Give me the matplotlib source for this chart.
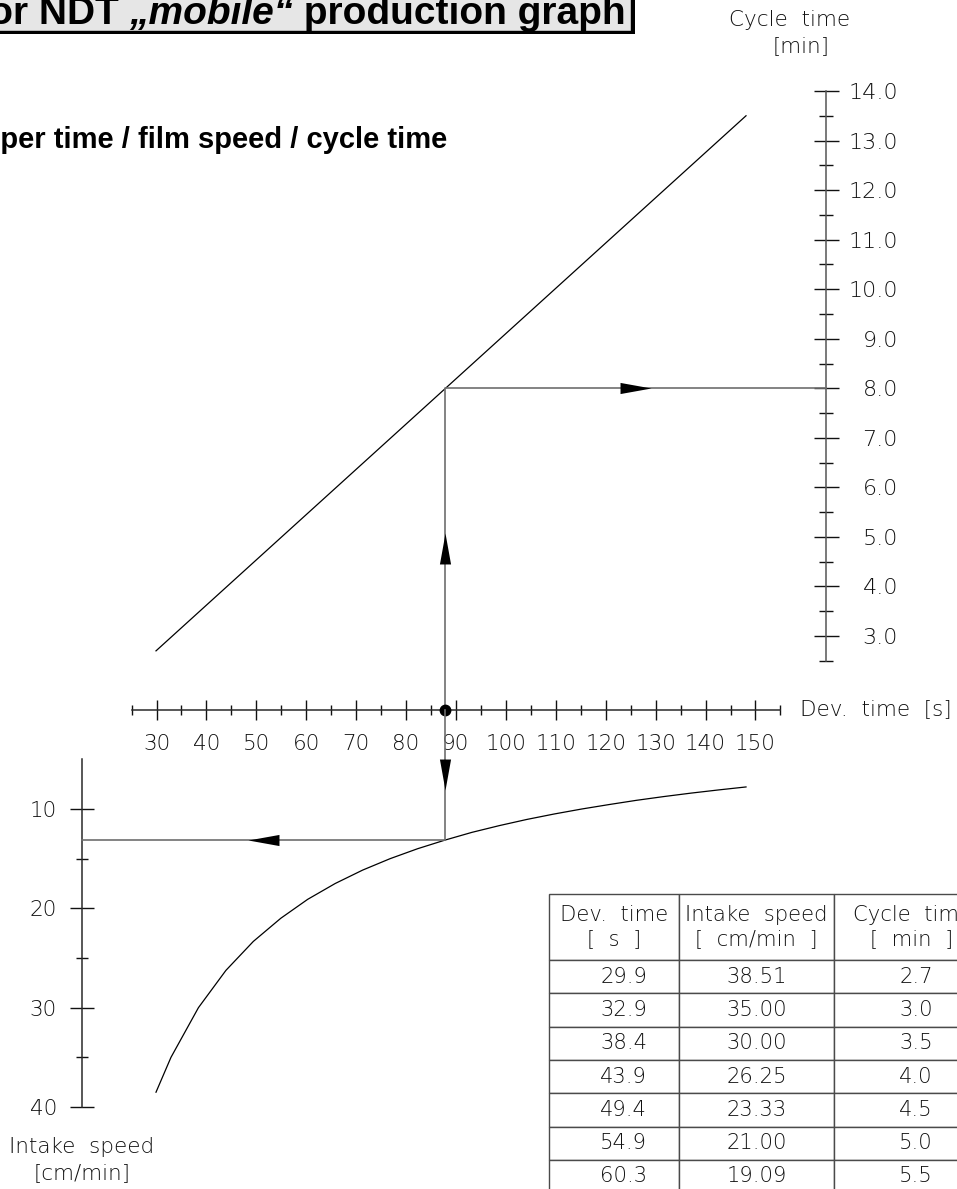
import matplotlib
matplotlib.use("Agg")
import matplotlib.pyplot as plt
from matplotlib import font_manager as fm
from matplotlib.path import Path
from matplotlib.markers import MarkerStyle
from matplotlib.transforms import Affine2D
from matplotlib.patches import Rectangle
from matplotlib.text import Annotation

# ---------------- data ----------------
dev_time = [29.9, 32.9, 38.4, 43.9, 49.4, 54.9, 60.3, 65.8, 71.3, 76.8, 82.3, 87.8,
            93.2, 98.7, 104.2, 109.7, 115.2, 120.7, 126.1, 131.6, 137.1, 142.6, 148.1]
intake_speed = [38.51, 35.00, 30.00, 26.25, 23.33, 21.00, 19.09, 17.50, 16.15, 15.00,
                14.00, 13.13, 12.35, 11.67, 11.05, 10.50, 10.00, 9.55, 9.13, 8.75,
                8.40, 8.08, 7.78]
cycle_time = [2.7, 3.0, 3.5, 4.0, 4.5, 5.0, 5.5, 6.0, 6.5, 7.0, 7.5, 8.0,
              8.5, 9.0, 9.5, 10.0, 10.5, 11.0, 11.5, 12.0, 12.5, 13.0, 13.5]
table_rows = 7          # rows of the table that are visible
example_index = 11      # worked example: 87.8 s -> 8.0 min / 13.13 cm/min

dev_ticks = [30, 40, 50, 60, 70, 80, 90, 100, 110, 120, 130, 140, 150]
dev_minor = [25, 35, 45, 55, 65, 75, 85, 95, 105, 115, 125, 135, 145, 155]
dev_range = (25, 155)
cycle_ticks = [3.0, 4.0, 5.0, 6.0, 7.0, 8.0, 9.0, 10.0, 11.0, 12.0, 13.0, 14.0]
cycle_minor = [2.5, 3.5, 4.5, 5.5, 6.5, 7.5, 8.5, 9.5, 10.5, 11.5, 12.5, 13.5]
cycle_range = (2.5, 14.0)
speed_ticks = [10, 20, 30, 40]
speed_minor = [15, 25, 35]
speed_range = (5, 40)

dev_label = "Dev.  time  [s]"
cycle_label = ["Cycle  time", "[min]"]
speed_label = ["Intake  speed", "[cm/min]"]
table_header = ["Dev.  time\n[  s  ]", "Intake  speed\n[  cm/min  ]", "Cycle  time\n[  min  ]"]
title_parts = ["Processor NDT ", "\u201emobile\u201c", " production graph"]
subtitle = "Developer time / film speed / cycle time"


# ---------------- fonts ----------------
def _w(f):
    w = f.weight
    if isinstance(w, str):
        w = fm.weight_dict.get(w, 400)
    return int(w)


def pick_cad_font():
    for pref in ["DejaVu Sans", "Lato", "Roboto", "Open Sans"]:
        for f in fm.fontManager.ttflist:
            if (f.name.startswith(pref) and "Mono" not in f.name and "Condensed" not in f.name
                    and f.style == "normal" and 150 <= _w(f) <= 320):
                return f.name, _w(f)
    return "DejaVu Sans", 400


CAD_FAMILY, CAD_WEIGHT = pick_cad_font()
plt.rcParams["font.family"] = [CAD_FAMILY, "DejaVu Sans"]
plt.rcParams["font.weight"] = CAD_WEIGHT
TITLE_FAMILY = ["Liberation Sans", "DejaVu Sans"]

# ---------------- layout (pixels of the 957x1189 canvas) ----------------
W, H, DPI = 957, 1189, 100
fig = plt.figure(figsize=(W / DPI, H / DPI), dpi=DPI)
fig.patch.set_facecolor("white")

X30, X150 = 156.5, 755.5
px_per_s = (X150 - X30) / 120.0
x_lo = 30 - X30 / px_per_s
x_hi = x_lo + W / px_per_s
Y14, Y3 = 91.0, 636.0
px_per_min = (Y3 - Y14) / 11.0
c_top = 14 + Y14 / px_per_min
c_bot = c_top - H / px_per_min
Y10, Y40 = 809.0, 1107.0
px_per_v = (Y40 - Y10) / 30.0
v_top = 10 - Y10 / px_per_v
v_bot = v_top + H / px_per_v


def sx(px):
    return x_lo + px / px_per_s


def cy(py):
    return c_top - py / px_per_min


def vy(py):
    return v_top + py / px_per_v


AXIS_Y, CYC_X, SPD_X = 710, 826, 82
INK = "#111111"
SPINE = "#2a2a2a"
GUIDE = "#6e6e6e"
TICK_FS = 15.5

ax1 = fig.add_axes([0, 0, 1, 1])
ax1.set_xlim(x_lo, x_hi)
ax1.set_ylim(c_bot, c_top)
ax2 = fig.add_axes([0, 0, 1, 1])
ax2.set_xlim(x_lo, x_hi)
ax2.set_ylim(v_bot, v_top)   # inverted: speed grows downward

for ax in (ax1, ax2):
    ax.patch.set_visible(False)
    for s in ax.spines.values():
        s.set_visible(False)

# dev-time axis (horizontal)
sp = ax1.spines["bottom"]
sp.set_visible(True)
sp.set_position(("data", cy(AXIS_Y)))
sp.set_bounds(*dev_range)
sp.set_color(SPINE)
sp.set_linewidth(1.1)
ax1.set_xticks(dev_ticks)
ax1.set_xticklabels([str(t) for t in dev_ticks])
ax1.set_xticks(dev_minor, minor=True)
ax1.tick_params(axis="x", which="major", direction="inout", length=13.7, width=1.0,
                colors=INK, pad=10.5, labelsize=TICK_FS)
ax1.tick_params(axis="x", which="minor", direction="inout", length=7.9, width=1.0, colors=INK)

# cycle-time axis (right)
sp = ax1.spines["right"]
sp.set_visible(True)
sp.set_position(("data", sx(CYC_X)))
sp.set_bounds(*cycle_range)
sp.set_color("#555555")
sp.set_linewidth(1.1)
ax1.yaxis.set_ticks_position("right")
ax1.set_yticks(cycle_ticks)
ax1.set_yticklabels(["%.1f" % t for t in cycle_ticks])
ax1.set_yticks(cycle_minor, minor=True)
ax1.tick_params(axis="y", which="major", direction="inout", length=18, width=1.0, colors=INK,
                pad=42.8, labelsize=TICK_FS + 0.5, left=False, labelleft=False, right=True,
                labelright=True)
ax1.tick_params(axis="y", which="minor", direction="inout", length=9.4, width=1.0, colors=INK,
                left=False, right=True)
for lbl in ax1.get_yticklabels():
    lbl.set_horizontalalignment("right")

# intake-speed axis (left, lower part)
sp = ax2.spines["left"]
sp.set_visible(True)
sp.set_position(("data", sx(SPD_X)))
sp.set_bounds(*speed_range)
sp.set_color(SPINE)
sp.set_linewidth(1.1)
ax2.set_yticks(speed_ticks)
ax2.set_yticklabels([str(t) for t in speed_ticks])
ax2.set_yticks(speed_minor, minor=True)
ax2.tick_params(axis="y", which="major", direction="inout", length=17.3, width=1.0, colors=INK,
                pad=9.4, labelsize=TICK_FS)
ax2.tick_params(axis="y", which="minor", direction="inout", length=8.6, width=1.0, colors=INK)
ax2.set_xticks([])
ax2.tick_params(axis="x", bottom=False, labelbottom=False)

# ---------------- curves ----------------
# cycle time grows linearly with development time: straight line between the end rows
ax1.plot([dev_time[0], dev_time[-1]], [cycle_time[0], cycle_time[-1]], color="black", lw=0.9)
ax2.plot(dev_time, intake_speed, color="black", lw=0.9, solid_joinstyle="round")

# worked example guide lines
ex_d = dev_time[example_index]
ex_c = cycle_time[example_index]
ex_v = intake_speed[example_index]
ax1.plot([ex_d, ex_d, sx(CYC_X)], [cy(AXIS_Y), ex_c, ex_c], color=GUIDE, lw=1.2, zorder=3)
ax2.plot([ex_d, ex_d, sx(SPD_X)], [vy(AXIS_Y), ex_v, ex_v], color=GUIDE, lw=1.2, zorder=3)
ax1.plot([ex_d], [cy(AXIS_Y)], "o", ms=7.5, color="black", mec="black", zorder=6)


def arrow_marker(angle):
    p = Path([(0, 0), (-1, -0.18), (-1, 0.18), (0, 0)],
             [Path.MOVETO, Path.LINETO, Path.LINETO, Path.CLOSEPOLY])
    return MarkerStyle(p.transformed(Affine2D().rotate_deg(angle)))


AMS = 44.6
ax1.plot([sx(651)], [ex_c], marker=arrow_marker(0), ms=AMS, color="black", mew=0, ls="none", zorder=5)
ax1.plot([ex_d], [cy(533)], marker=arrow_marker(90), ms=AMS, color="black", mew=0, ls="none", zorder=5)
ax2.plot([ex_d], [vy(790)], marker=arrow_marker(-90), ms=AMS, color="black", mew=0, ls="none", zorder=5)
ax2.plot([sx(248)], [ex_v], marker=arrow_marker(180), ms=AMS, color="black", mew=0, ls="none", zorder=5)


# ---------------- texts ----------------
def fx(px):
    return px / W


def fy(py):
    return 1 - py / H


LBL_FS = 15.5
fig.text(fx(790), fy(20), cycle_label[0], ha="center", va="center", fontsize=LBL_FS, color=INK)
fig.text(fx(801), fy(46), cycle_label[1], ha="center", va="center", fontsize=LBL_FS, color=INK)
fig.text(fx(800), fy(709), dev_label, ha="left", va="center", fontsize=LBL_FS, color=INK)
fig.text(fx(82), fy(1147), speed_label[0], ha="center", va="center", fontsize=LBL_FS, color=INK)
fig.text(fx(82), fy(1173), speed_label[1], ha="center", va="center", fontsize=LBL_FS, color=INK)

# title box with shadow (drawn beneath everything else)
TITLE_FS = 28
fig.add_artist(Rectangle((fx(-20), fy(34)), fx(655), 60 / H, transform=fig.transFigure,
                         facecolor="black", edgecolor="none", zorder=-2))
fig.add_artist(Rectangle((fx(-20), fy(31)), fx(651), 60 / H, transform=fig.transFigure,
                         facecolor="#e6e6e6", edgecolor="black", lw=1.0, zorder=-1))
t3 = fig.text(fx(626), fy(24), title_parts[2], ha="right", va="baseline", fontsize=TITLE_FS,
              family=TITLE_FAMILY, weight="bold", color="black", zorder=4)
t2 = Annotation(title_parts[1], xy=(0, 0), xycoords=t3, ha="right", va="bottom", fontsize=TITLE_FS,
                family=TITLE_FAMILY, weight="bold", style="italic", color="black", zorder=4)
fig.add_artist(t2)
t1 = Annotation(title_parts[0], xy=(0, 0), xycoords=t2, ha="right", va="bottom", fontsize=TITLE_FS,
                family=TITLE_FAMILY, weight="bold", color="black", zorder=4)
fig.add_artist(t1)
fig.text(fx(447), fy(148), subtitle, ha="right", va="baseline", fontsize=21,
         family=TITLE_FAMILY, weight="bold", color="black")

# ---------------- table ----------------
TL, TT = 549, 894
col_w = [130, 155, 156]
head_h, row_h = 66, 33.3
t_h = head_h + row_h * table_rows
axt = fig.add_axes([fx(TL), fy(TT + t_h), sum(col_w) / W, t_h / H])
axt.axis("off")
cells = [table_header] + [["%.1f" % dev_time[i], "%.2f" % intake_speed[i], "%.1f" % cycle_time[i]]
                          for i in range(table_rows)]
tbl = axt.table(cellText=cells, colWidths=[c / sum(col_w) for c in col_w], cellLoc="center",
                bbox=[0, 0, 1, 1])
tbl.auto_set_font_size(False)
tbl.set_fontsize(15.2)
# numbers sit slightly right of centre in the 1st and 3rd columns of the reference
num_pad = {0: 0.246, 2: 0.365}
for (r, c), cell in tbl.get_celld().items():
    cell.set_height(head_h if r == 0 else row_h)
    cell.set_edgecolor("#4a4a4a")
    cell.set_linewidth(1.0)
    cell.set_facecolor("white")
    txt = cell.get_text()
    txt.set_color(INK)
    txt.set_linespacing(1.3)
    if r > 0 and c in num_pad:
        txt.set_horizontalalignment("right")
        cell.PAD = num_pad[c]

fig.savefig("out.png", dpi=DPI, facecolor="white")
